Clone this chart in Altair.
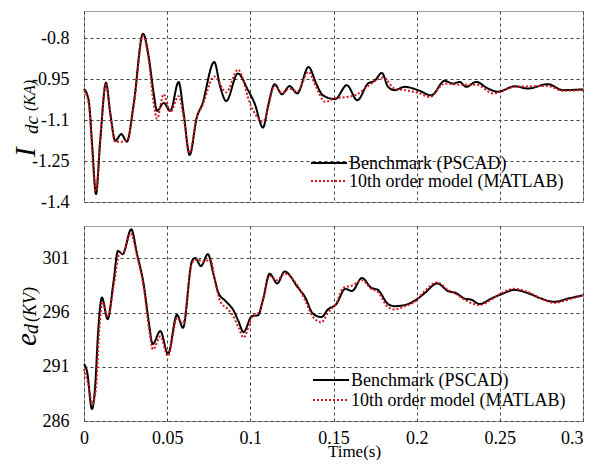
import altair as alt
import pandas as pd

FONT = "Liberation Serif"
SERIES = ["Benchmark (PSCAD)", "10th order model (MATLAB)"]
COLORS = ["#000000", "#d4161f"]

# ---------------- Idc (top panel) ----------------
idc_t_pscad = [0.0, 0.0028, 0.005, 0.0072, 0.0098, 0.0132, 0.0158, 0.0188, 0.0224, 0.0258,
               0.0299, 0.0355, 0.0389, 0.0419, 0.0439, 0.0479, 0.0519, 0.0569, 0.0599, 0.0635,
               0.0679, 0.0709, 0.0783, 0.0819, 0.0855, 0.0925, 0.0986, 0.1026, 0.1076, 0.111,
               0.1146, 0.119, 0.1236, 0.1282, 0.135, 0.1396, 0.1436, 0.151, 0.158, 0.1643,
               0.1707, 0.1747, 0.1791, 0.1828, 0.1868, 0.1928, 0.2008, 0.2088, 0.2168, 0.2218,
               0.2258, 0.2298, 0.2358, 0.2428, 0.2488, 0.2589, 0.2669, 0.2789, 0.2879, 0.3]
idc_v_pscad = [-0.985, -1.027, -1.2, -1.371, -1.173, -0.963, -1.074, -1.176, -1.151, -1.179,
               -1.039, -0.783, -0.868, -1.002, -1.066, -1.037, -1.066, -0.96, -1.074, -1.228,
               -1.088, -1.045, -0.887, -0.978, -1.03, -0.929, -0.99, -1.039, -1.127, -1.039,
               -0.968, -1.005, -0.975, -1.002, -0.905, -0.966, -1.009, -1.023, -0.972, -1.027,
               -0.966, -0.956, -0.927, -0.978, -0.99, -0.978, -0.99, -1.009, -0.956, -0.966,
               -0.96, -0.978, -0.96, -0.984, -0.996, -0.976, -0.984, -0.968, -0.99, -0.987]
idc_t_matlab = [0.0, 0.0028, 0.0072, 0.0098, 0.0132, 0.0158, 0.0188, 0.0258, 0.0299, 0.0355,
                0.0389, 0.0419, 0.0439, 0.0479, 0.0519, 0.0569, 0.0599, 0.0635, 0.0679, 0.0709,
                0.0783, 0.0855, 0.0925, 0.1005, 0.1076, 0.1146, 0.119, 0.1236, 0.1282, 0.135,
                0.1396, 0.145, 0.151, 0.158, 0.1643, 0.1707, 0.18, 0.1868, 0.1928, 0.2008,
                0.208, 0.2168, 0.2258, 0.2358, 0.246, 0.2589, 0.2789, 0.2879, 0.3]
idc_v_matlab = [-0.99, -1.04, -1.36, -1.16, -0.965, -1.08, -1.18, -1.175, -1.05, -0.79,
                -0.88, -1.04, -1.095, -1.005, -1.07, -1.012, -1.09, -1.22, -1.085, -1.05,
                -0.94, -0.998, -0.915, -1.05, -1.106, -0.975, -1.0, -0.985, -0.995, -0.923,
                -0.98, -1.033, -1.02, -1.015, -1.005, -0.975, -0.944, -0.985, -0.99, -1.0,
                -1.015, -0.966, -0.97, -0.97, -1.002, -0.978, -0.975, -0.992, -0.99]

# ---------------- ed (bottom panel) ----------------
ed_t_pscad = [0.0, 0.0018, 0.0048, 0.0068, 0.0084, 0.0108, 0.0142, 0.0178, 0.0204, 0.0232,
              0.0284, 0.0319, 0.0359, 0.0389, 0.0413, 0.0459, 0.0505, 0.0559, 0.0595, 0.0649,
              0.0669, 0.0703, 0.0745, 0.0779, 0.0809, 0.0849, 0.0899, 0.0929, 0.0959, 0.101,
              0.1046, 0.1076, 0.1116, 0.1162, 0.1206, 0.1287, 0.1327, 0.1377, 0.1427, 0.1467,
              0.1517, 0.1571, 0.1611, 0.1671, 0.1727, 0.1767, 0.1828, 0.1868, 0.1928, 0.1988,
              0.2048, 0.2124, 0.2188, 0.2238, 0.2288, 0.2328, 0.2378, 0.2448, 0.2509, 0.2589,
              0.2669, 0.2749, 0.2829, 0.2909, 0.3]
ed_v_pscad = [291.25, 290.6, 287.1, 289.4, 294.0, 297.4, 295.4, 298.9, 301.7, 301.4,
              303.7, 301.4, 298.6, 295.2, 293.1, 294.3, 292.2, 295.8, 294.6, 300.75,
              301.05, 300.3, 301.4, 299.5, 297.8, 297.1, 296.2, 295.2, 294.2, 295.7,
              295.75, 297.2, 299.6, 298.7, 299.8, 298.3, 297.5, 295.9, 295.6, 296.3,
              296.8, 298.2, 298.0, 299.2, 298.3, 298.1, 296.8, 296.6, 296.7, 297.1,
              297.8, 298.7, 298.0, 297.8, 297.3, 297.2, 296.8, 297.3, 297.7, 298.1,
              297.8, 297.3, 297.0, 297.3, 297.6]
ed_t_matlab = [0.0, 0.0024, 0.005, 0.0072, 0.009, 0.0112, 0.0142, 0.018, 0.021, 0.024,
               0.028, 0.032, 0.036, 0.039, 0.0415, 0.0459, 0.0505, 0.056, 0.0595, 0.065,
               0.068, 0.072, 0.076, 0.079, 0.082, 0.086, 0.09, 0.093, 0.096, 0.101,
               0.105, 0.108, 0.1116, 0.116, 0.1206, 0.1287, 0.1327, 0.1377, 0.1427, 0.1467,
               0.1517, 0.156, 0.1611, 0.1671, 0.1727, 0.1767, 0.1828, 0.1868, 0.1928, 0.1988,
               0.2048, 0.2124, 0.2188, 0.2238, 0.2288, 0.2378, 0.2448, 0.2509, 0.2589, 0.2669,
               0.2749, 0.2829, 0.2909, 0.3]
ed_v_matlab = [290.8, 289.5, 287.6, 289.0, 294.0, 297.0, 295.6, 298.6, 301.3, 301.6,
               303.3, 301.2, 298.2, 294.6, 292.6, 293.8, 292.0, 295.5, 295.0, 300.6,
               300.9, 300.7, 300.9, 298.8, 297.0, 296.4, 295.6, 294.6, 293.7, 295.6,
               296.0, 297.4, 299.4, 299.0, 299.6, 298.4, 297.2, 295.6, 295.1, 296.0,
               296.9, 298.3, 298.5, 299.0, 298.2, 297.9, 296.5, 296.3, 296.6, 297.0,
               298.0, 298.8, 298.1, 297.7, 297.2, 296.7, 297.2, 297.8, 298.2, 297.9,
               297.3, 296.9, 297.2, 297.6]

x_ticks = [0, 0.05, 0.1, 0.15, 0.2, 0.25, 0.3]
idc_ticks = [-1.4, -1.25, -1.1, -0.95, -0.8]
ed_ticks = [286, 291, 296, 301]

W = 499


def make_df(t1, v1, t2, v2):
    return pd.DataFrame({
        "t": t1 + t2,
        "v": v1 + v2,
        "series": [SERIES[0]] * len(t1) + [SERIES[1]] * len(t2),
    })


def panel(df, ydomain, yticks, show_x, height, legend_pos, title_parts):
    color = alt.Color("series:N", scale=alt.Scale(domain=SERIES, range=COLORS), legend=None)
    dash = alt.StrokeDash("series:N", scale=alt.Scale(domain=SERIES, range=[[1, 0], [2, 2]]),
                          legend=None)
    if show_x:
        xaxis = alt.Axis(values=x_ticks, labelExpr="datum.value + ''", title="Time(s)",
                         titleFont=FONT, titleFontSize=17, titleFontWeight="normal",
                         titleColor="black", titleX=270, titlePadding=-4,
                         labelPadding=8, labelFlush=False,
                         labelAlign=alt.condition("datum.value >= 0.3",
                                                  alt.value("right"), alt.value("center")),
                         grid=True)
    else:
        xaxis = alt.Axis(values=x_ticks, labels=False, title=None, grid=True,
                         minExtent=0, maxExtent=0, labelPadding=0, offset=0)
    x = alt.X("t:Q", scale=alt.Scale(domain=[0, 0.3], nice=False, zero=False), axis=xaxis)
    y = alt.Y("v:Q", scale=alt.Scale(domain=ydomain, nice=False, zero=False),
              axis=alt.Axis(values=yticks, labelExpr="datum.value + ''", title=None,
                            labelPadding=15, labelFlush=False, grid=True))
    base = alt.Chart(df).encode(x=x, y=y, color=color, strokeDash=dash)
    black = base.transform_filter(alt.datum.series == SERIES[0]).mark_line(
        strokeWidth=2, interpolate="monotone")
    red = base.transform_filter(alt.datum.series == SERIES[1]).mark_line(
        strokeWidth=2, interpolate="monotone")
    layers = [black, red]
    one = pd.DataFrame({"k": [0]})
    # legend (drawn inside the plot, lower right)
    lx, ly, gap = legend_pos
    for i, name in enumerate(SERIES):
        yy = ly + i * gap
        layers.append(
            alt.Chart(one).mark_rule(
                color=COLORS[i], strokeWidth=2, strokeDash=[1, 0] if i == 0 else [2, 2]
            ).encode(x=alt.value(lx), x2=alt.value(lx + 36), y=alt.value(yy))
        )
        layers.append(
            alt.Chart(one).mark_text(
                align="left", baseline="middle", font=FONT, fontSize=18, color="black"
            ).encode(x=alt.value(lx + 38), y=alt.value(yy + 1), text=alt.value(name))
        )
    # y-axis title pieces (rotated)
    for txt, px, py, size, italic in title_parts:
        layers.append(
            alt.Chart(one).mark_text(
                angle=270, align="left", baseline="alphabetic", font=FONT,
                fontSize=size, fontStyle="italic" if italic else "normal", color="black"
            ).encode(x=alt.value(px), y=alt.value(py), text=alt.value(txt))
        )
    return alt.layer(*layers).properties(width=W, height=height)


df_idc = make_df(idc_t_pscad, idc_v_pscad, idc_t_matlab, idc_v_matlab)
df_ed = make_df(ed_t_pscad, ed_v_pscad, ed_t_matlab, ed_v_matlab)

top = panel(df_idc, [-1.4, -0.7], idc_ticks, False, 191, (227, 152, 18),
            [("I", -49, 146, 29, True), ("dc", -46, 123, 19, True), ("(KA)", -49, 100, 16, True)])
bottom = panel(df_ed, [286, 304], ed_ticks, True, 195, (229, 154, 20),
               [("e", -48, 120, 29, True), ("d", -46, 108, 20, True), ("(KV)", -48, 96, 18, True)])

chart = alt.vconcat(top, bottom, spacing=12).resolve_scale(
    color="independent", strokeDash="independent", y="independent"
).properties(
    padding={"top": 2, "left": 3, "right": 0, "bottom": 0}
).configure_view(
    stroke="#a0a0a0", strokeWidth=1
).configure_axis(
    domain=False, ticks=False, gridColor="#404040", gridDash=[3, 3], gridWidth=1,
    gridOpacity=1, labelFont=FONT, labelFontSize=18, labelColor="black"
)

chart.save("out.html", embed_options={"renderer": "svg", "actions": False})
